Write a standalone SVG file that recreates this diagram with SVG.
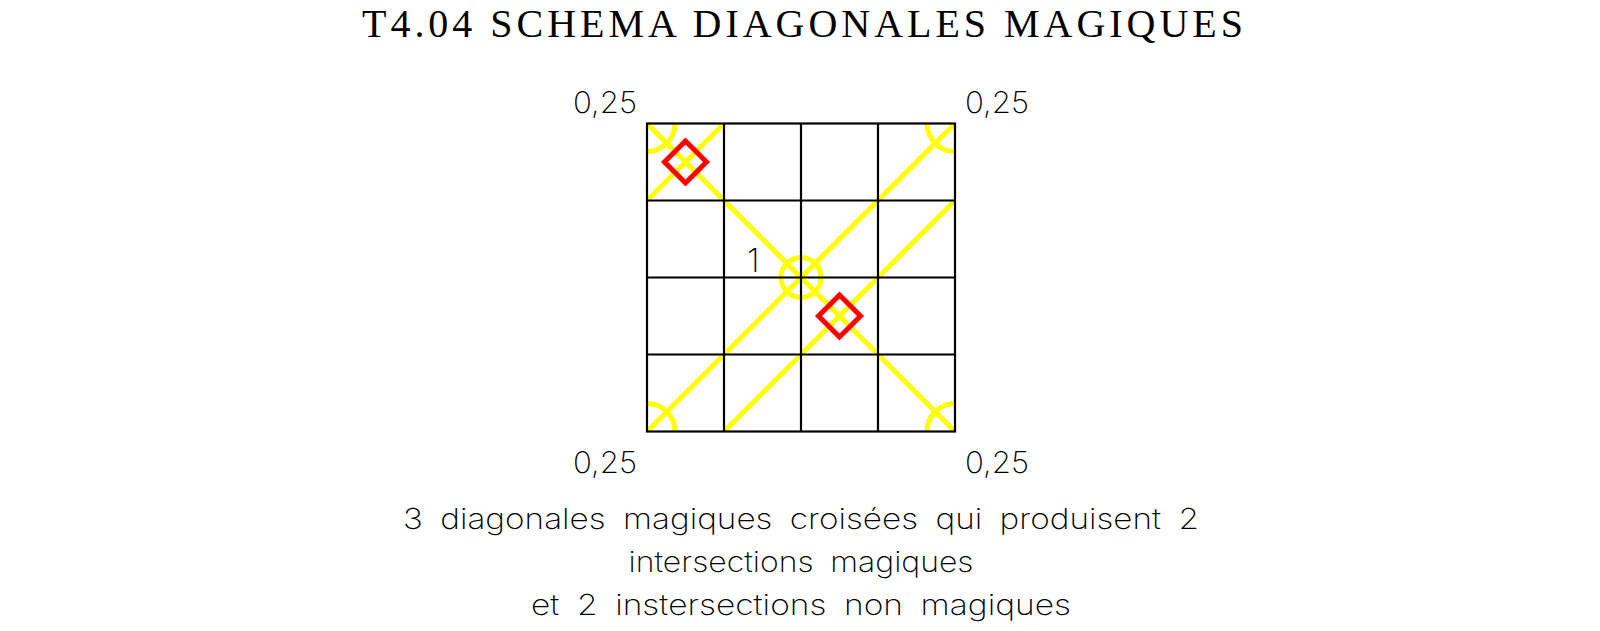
<svg xmlns="http://www.w3.org/2000/svg" width="1600" height="631" viewBox="0 0 1600 631">
<style>
.title{font-family:"Liberation Serif","DejaVu Serif",serif;font-size:40px;fill:#000}
.lbl{font-family:"Inter","DejaVu Sans",sans-serif;font-weight:200;fill:#000}
.cap{word-spacing:7px}
.grid{stroke:#000;stroke-width:2.2;fill:none}
.yel{stroke:#ffff00;stroke-width:5;fill:none}
.red{stroke:#ff0000;stroke-width:5;fill:none;stroke-linejoin:miter}
</style>
<defs>
<clipPath id="sq"><rect x="647" y="123.5" width="308" height="308"/></clipPath>
</defs>
<rect width="1600" height="631" fill="#fff"/>
<g id="title">
<text class="title" x="362" y="37" textLength="881" lengthAdjust="spacing">T4.04 SCHEMA DIAGONALES MAGIQUES</text>
</g>
<g id="connectors" clip-path="url(#sq)">
<g class="yel">
<line x1="647" y1="123.5" x2="955" y2="431.5"/>
<line x1="724" y1="123.5" x2="647" y2="200.5"/>
<line x1="955" y1="123.5" x2="647" y2="431.5"/>
<line x1="955" y1="200.5" x2="724" y2="431.5"/>
<circle cx="647" cy="123.5" r="28"/>
<circle cx="955" cy="123.5" r="28"/>
<circle cx="647" cy="431.5" r="28"/>
<circle cx="955" cy="431.5" r="28"/>
<circle cx="801" cy="277.5" r="20"/>
</g>
</g>
<g id="grid" class="grid">
<rect x="647" y="123.5" width="308" height="308"/>
<line x1="724" y1="123.5" x2="724" y2="431.5"/>
<line x1="801" y1="123.5" x2="801" y2="431.5"/>
<line x1="878" y1="123.5" x2="878" y2="431.5"/>
<line x1="647" y1="200.5" x2="955" y2="200.5"/>
<line x1="647" y1="277.5" x2="955" y2="277.5"/>
<line x1="647" y1="354.5" x2="955" y2="354.5"/>
</g>
<g id="magic1">
<path class="red" d="M685.5 141 L706.5 162 L685.5 183 L664.5 162 Z"/>
</g>
<g id="magic2">
<path class="red" d="M839.5 295 L860.5 316 L839.5 337 L818.5 316 Z"/>
</g>
<g id="labels">
<text class="lbl" x="573" y="113" font-size="30" textLength="64" lengthAdjust="spacingAndGlyphs">0,25</text>
<text class="lbl" x="965" y="113" font-size="30" textLength="64" lengthAdjust="spacingAndGlyphs">0,25</text>
<text class="lbl" x="573" y="473" font-size="30" textLength="64" lengthAdjust="spacingAndGlyphs">0,25</text>
<text class="lbl" x="965" y="473" font-size="30" textLength="64" lengthAdjust="spacingAndGlyphs">0,25</text>
<text class="lbl" x="747" y="272" font-size="33">1</text>
</g>
<g id="caption">
<text class="lbl cap" x="801" y="529" font-size="29" text-anchor="middle" textLength="796" lengthAdjust="spacingAndGlyphs">3 diagonales magiques croisées qui produisent 2</text>
<text class="lbl cap" x="801" y="572" font-size="29" text-anchor="middle" textLength="345" lengthAdjust="spacingAndGlyphs">intersections magiques</text>
<text class="lbl cap" x="801" y="615" font-size="29" text-anchor="middle" textLength="540" lengthAdjust="spacingAndGlyphs">et 2 instersections non magiques</text>
</g>
</svg>
